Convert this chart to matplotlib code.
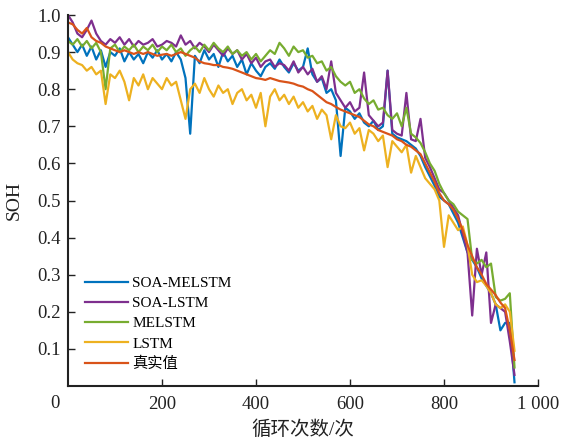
import numpy as np
import matplotlib
matplotlib.use("Agg")
import matplotlib.pyplot as plt

plt.rcParams['font.family'] = ['Liberation Serif', 'Noto Sans CJK SC']
plt.rcParams['axes.unicode_minus'] = False

# cycle index, one sample every 10 cycles
cycles = np.arange(0, 951, 10)

soh_true = [
    0.98, 0.975, 0.96, 0.95, 0.965, 0.94, 0.93, 0.925, 0.915, 0.91,
    0.905, 0.90, 0.905, 0.90, 0.895, 0.90, 0.895, 0.90, 0.895, 0.89,
    0.893, 0.895, 0.89, 0.895, 0.90, 0.895, 0.89, 0.885, 0.875, 0.87,
    0.868, 0.865, 0.865, 0.86, 0.858, 0.855, 0.85, 0.845, 0.84, 0.835,
    0.83, 0.828, 0.825, 0.83, 0.826, 0.822, 0.82, 0.818, 0.815, 0.81,
    0.807, 0.80, 0.795, 0.785, 0.775, 0.765, 0.76, 0.752, 0.745, 0.74,
    0.735, 0.73, 0.725, 0.715, 0.705, 0.70, 0.69, 0.685, 0.68, 0.675,
    0.665, 0.66, 0.65, 0.645, 0.635, 0.625, 0.60, 0.575, 0.55, 0.52,
    0.50, 0.49, 0.475, 0.45, 0.42, 0.38, 0.35, 0.32, 0.30, 0.275,
    0.26, 0.245, 0.225, 0.21, 0.15, 0.07,
]

soa_melstm = [
    0.94, 0.92, 0.90, 0.92, 0.89, 0.915, 0.88, 0.905, 0.86, 0.90,
    0.89, 0.91, 0.875, 0.90, 0.88, 0.895, 0.87, 0.90, 0.885, 0.905,
    0.88, 0.895, 0.875, 0.90, 0.88, 0.83, 0.68, 0.89, 0.87, 0.905,
    0.88, 0.895, 0.86, 0.90, 0.875, 0.89, 0.86, 0.88, 0.84, 0.87,
    0.85, 0.835, 0.86, 0.87, 0.855, 0.88, 0.86, 0.845, 0.87, 0.85,
    0.86, 0.91, 0.84, 0.82, 0.83, 0.79, 0.80, 0.77, 0.62, 0.75,
    0.74, 0.72, 0.735, 0.71, 0.70, 0.715, 0.69, 0.70, 0.85, 0.68,
    0.67, 0.665, 0.66, 0.65, 0.64, 0.62, 0.59, 0.565, 0.54, 0.51,
    0.50, 0.49, 0.465, 0.44, 0.40, 0.36, 0.34, 0.32, 0.29, 0.27,
    0.25, 0.22, 0.15, 0.17, 0.17, 0.01,
]

soa_lstm = [
    1.00, 0.98, 0.95, 0.94, 0.96, 0.985, 0.95, 0.93, 0.92, 0.935,
    0.925, 0.94, 0.92, 0.935, 0.915, 0.93, 0.92, 0.925, 0.935, 0.915,
    0.92, 0.93, 0.925, 0.915, 0.945, 0.92, 0.93, 0.91, 0.925, 0.915,
    0.90, 0.92, 0.905, 0.89, 0.91, 0.895, 0.905, 0.88, 0.895, 0.87,
    0.885, 0.86, 0.875, 0.88, 0.86, 0.87, 0.865, 0.85, 0.875, 0.845,
    0.86, 0.84, 0.855, 0.82, 0.835, 0.80, 0.875, 0.79, 0.77, 0.75,
    0.765, 0.74, 0.75, 0.845, 0.73, 0.715, 0.70, 0.71, 0.85, 0.69,
    0.68, 0.675, 0.79, 0.665, 0.66, 0.72, 0.615, 0.59, 0.56, 0.53,
    0.52, 0.50, 0.48, 0.46, 0.41, 0.36, 0.19, 0.37, 0.30, 0.36,
    0.17, 0.22, 0.21, 0.20, 0.12, 0.03,
]

melstm = [
    0.93, 0.92, 0.935, 0.915, 0.93, 0.91, 0.925, 0.90, 0.80, 0.91,
    0.92, 0.90, 0.915, 0.905, 0.92, 0.90, 0.915, 0.905, 0.92, 0.90,
    0.915, 0.905, 0.92, 0.90, 0.91, 0.89, 0.905, 0.915, 0.90, 0.92,
    0.905, 0.925, 0.91, 0.90, 0.915, 0.895, 0.905, 0.89, 0.90, 0.88,
    0.895, 0.875, 0.89, 0.905, 0.895, 0.925, 0.91, 0.89, 0.915, 0.90,
    0.905, 0.885, 0.89, 0.87, 0.875, 0.85, 0.86, 0.835, 0.82, 0.81,
    0.82, 0.79, 0.80, 0.775, 0.76, 0.77, 0.745, 0.75, 0.73, 0.72,
    0.735, 0.70, 0.75, 0.68, 0.67, 0.655, 0.63, 0.60, 0.58, 0.545,
    0.52, 0.50, 0.49, 0.47, 0.46, 0.45, 0.34, 0.33, 0.34, 0.32,
    0.33, 0.24, 0.23, 0.235, 0.25, 0.05,
]

lstm = [
    0.90, 0.88, 0.87, 0.865, 0.85, 0.86, 0.84, 0.85, 0.76, 0.84,
    0.83, 0.85, 0.82, 0.77, 0.83, 0.81, 0.84, 0.80, 0.83, 0.815,
    0.80, 0.83, 0.81, 0.82, 0.77, 0.72, 0.80, 0.815, 0.79, 0.83,
    0.80, 0.78, 0.81, 0.79, 0.80, 0.76, 0.79, 0.80, 0.77, 0.785,
    0.75, 0.79, 0.70, 0.78, 0.80, 0.77, 0.785, 0.76, 0.78, 0.75,
    0.765, 0.74, 0.755, 0.72, 0.745, 0.73, 0.665, 0.73, 0.70, 0.695,
    0.71, 0.68, 0.695, 0.635, 0.69, 0.68, 0.66, 0.675, 0.59, 0.66,
    0.645, 0.63, 0.65, 0.575, 0.62, 0.59, 0.56, 0.545, 0.53, 0.50,
    0.375, 0.46, 0.44, 0.42, 0.43, 0.38, 0.30, 0.28, 0.285, 0.27,
    0.25, 0.22, 0.21, 0.22, 0.20, 0.095,
]

series = [
    ('SOA-MELSTM', soa_melstm, '#0072BD'),
    ('SOA-LSTM', soa_lstm, '#7E2F8E'),
    ('MELSTM', melstm, '#77AC30'),
    ('LSTM', lstm, '#EDB120'),
    ('真实值', soh_true, '#D95319'),
]

fig = plt.figure(figsize=(5.61, 4.43), dpi=100)
ax = fig.add_axes([68 / 561, 1 - 386 / 443, 470 / 561, 371 / 443])

for name, vals, color in series:
    ax.plot(cycles, vals, color=color, linewidth=1.6, label=name)

ax.set_xlim(0, 1000)
ax.set_ylim(0, 1.0)
ax.set_xticks([200, 400, 600, 800, 1000])
ax.set_xticklabels(['200', '400', '600', '800', '1 000'])
ax.set_yticks([0.1, 0.2, 0.3, 0.4, 0.5, 0.6, 0.7, 0.8, 0.9, 1.0])
ax.set_yticklabels(['0.1', '0.2', '0.3', '0.4', '0.5', '0.6', '0.7', '0.8', '0.9', '1.0'])
ax.tick_params(direction='in', length=5, width=1, labelsize=13.5, colors='#222222')
ax.tick_params(axis='x', pad=7)
ax.tick_params(axis='y', pad=5)

ax.spines['top'].set_visible(False)
ax.spines['right'].set_visible(False)
for s in ['left', 'bottom']:
    ax.spines[s].set_linewidth(1.5)
    ax.spines[s].set_color('#222222')

# shared origin label
ax.text(-0.028, -0.023, '0', transform=ax.transAxes, ha='center', va='top',
        fontsize=13.5, color='#222222')

ax.set_xlabel('循环次数/次', fontsize=14, color='#222222')
ax.xaxis.set_label_coords(0.5, -0.092)
ax.set_ylabel('SOH', fontsize=14, color='#222222')
ax.yaxis.set_label_coords(-0.097, 0.5)

ax.legend(loc='upper left', bbox_to_anchor=(0.036, 0.295), frameon=False,
          fontsize=11, handlelength=2.8, handletextpad=0.3, labelspacing=0.42,
          borderpad=0, borderaxespad=0)

fig.savefig('out.png', dpi=100)
